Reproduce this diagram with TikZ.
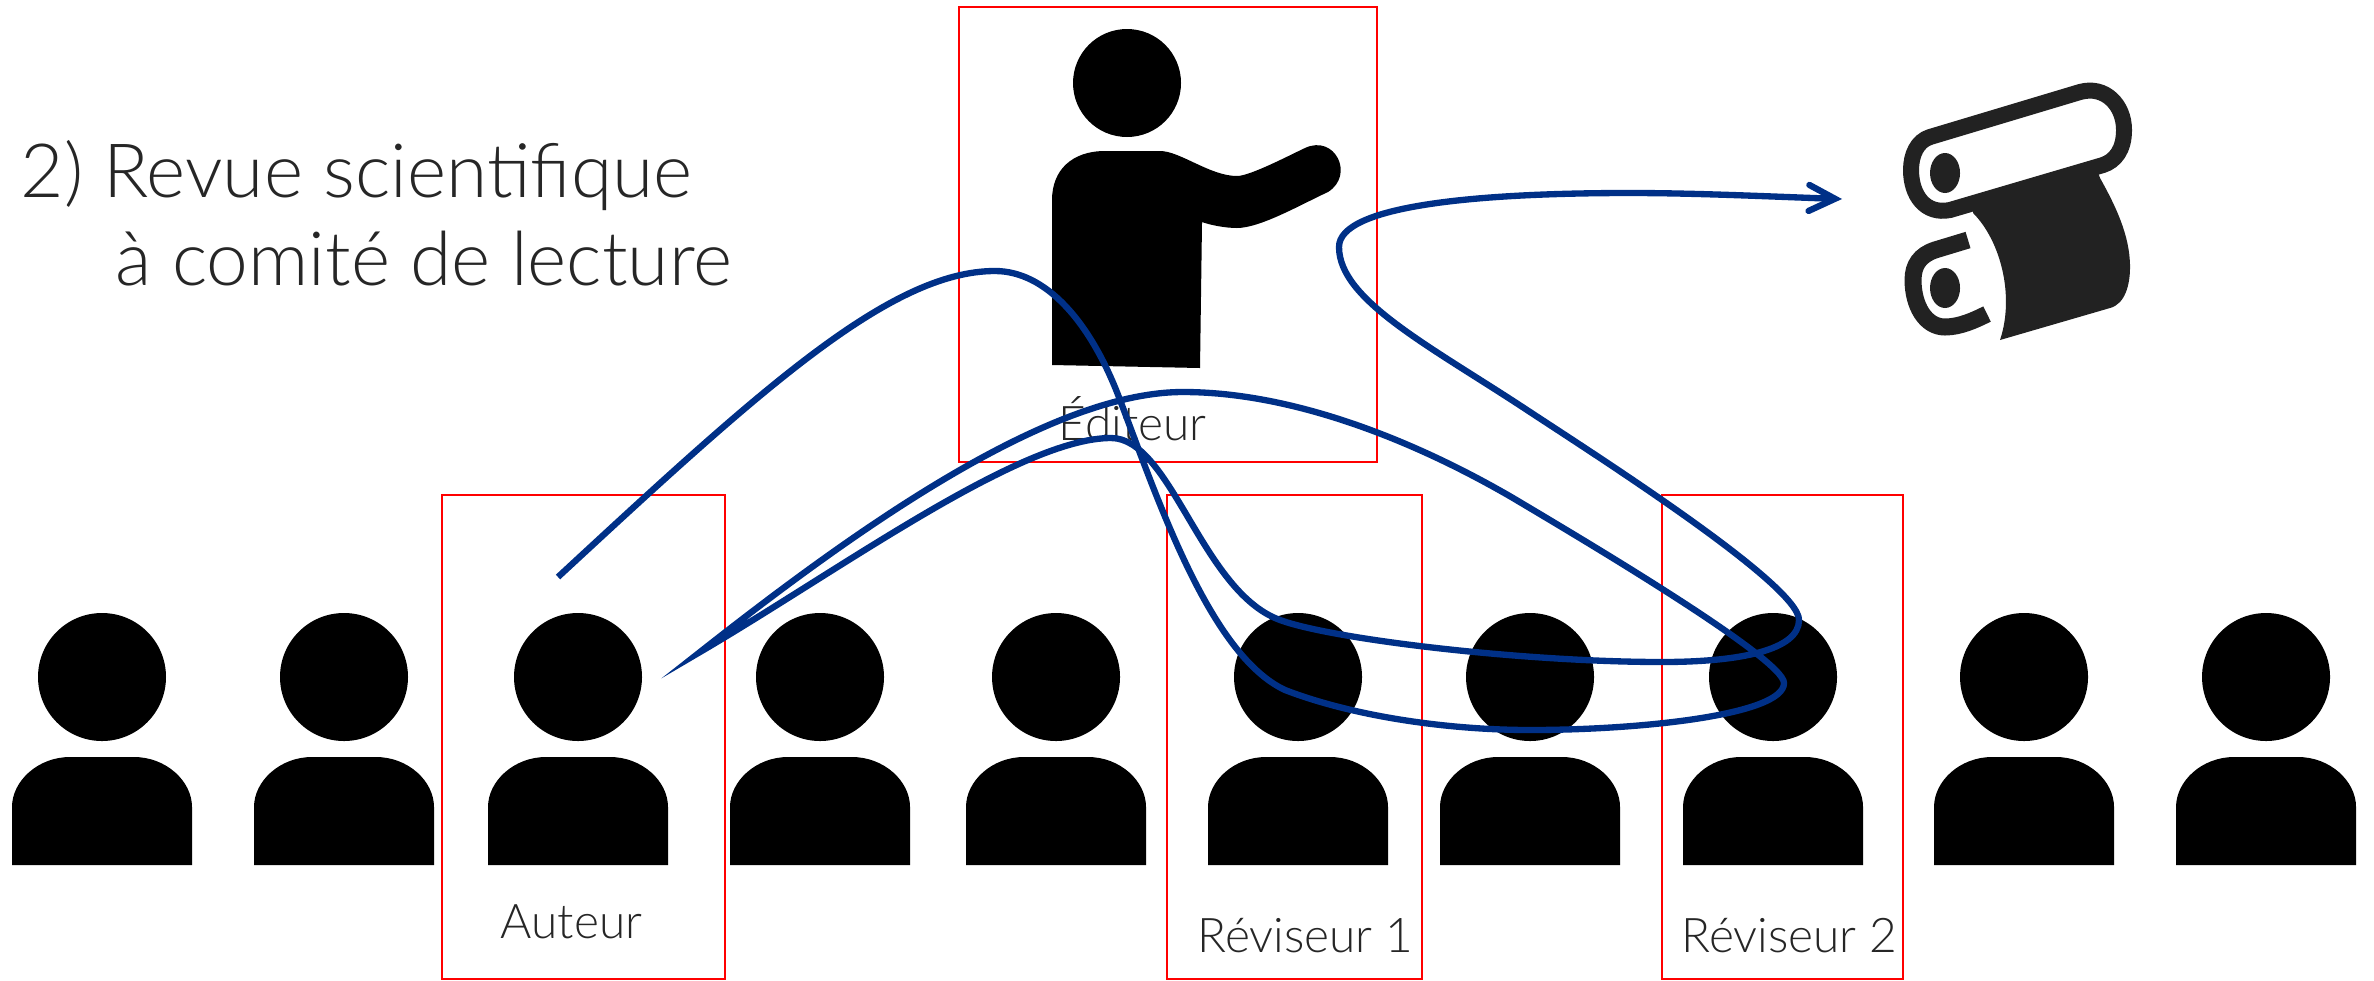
\documentclass[tikz,border=0pt]{standalone}
\usepackage{fontspec}
\setmainfont{Lato}[UprightFont=* Light]
\usetikzlibrary{arrows.meta}
\definecolor{curveblue}{RGB}{0,48,135}
\definecolor{textgray}{RGB}{38,38,38}
\definecolor{rollgray}{RGB}{34,34,34}
\tikzset{
        redbox/.style={draw=red,line width=0.6pt},
        pathcurve/.style={draw=curveblue,line width=1.8pt,miter limit=40},
        titletext/.style={anchor=base west,inner sep=0pt,text=textgray,font=\fontsize{21.3}{25}\selectfont},
        roletext/.style={anchor=base west,inner sep=0pt,text=textgray,font=\fontsize{13.6}{16}\selectfont},
}

\begin{document}
\begin{tikzpicture}
        \useasboundingbox (0,0) rectangle (23.74,9.80);

        \foreach \px in {1.02,3.44,5.78,8.20,10.56,12.98,15.30,17.73,20.24,22.66}{
                \fill (\px,3.03) circle (0.64);
                \fill (\px-0.90,1.15) -- (\px-0.90,1.73) .. controls (\px-0.90,1.99) and (\px-0.64,2.23) .. (\px-0.32,2.23)
                        -- (\px+0.32,2.23) .. controls (\px+0.64,2.23) and (\px+0.90,1.99) .. (\px+0.90,1.73) -- (\px+0.90,1.15) -- cycle;
        }

        \fill (11.27,8.97) circle (0.54);
        \fill (10.52,6.15) -- (10.52,7.80) .. controls (10.52,8.10) and (10.72,8.29) .. (11.05,8.29)
                -- (11.60,8.29) .. controls (11.80,8.29) and (12.10,8.04) .. (12.37,8.04)
                .. controls (12.50,8.04) and (12.90,8.25) .. (13.05,8.32)
                .. controls (13.35,8.46) and (13.55,8.05) .. (13.28,7.88)
                .. controls (13.00,7.75) and (12.60,7.52) .. (12.37,7.52)
                .. controls (12.25,7.52) and (12.10,7.55) .. (12.02,7.58) -- (12.00,6.12) -- cycle;

        \fill[rollgray] (19.73,7.75) -- (19.73,7.67) .. controls (20.00,7.40) and (20.15,6.85) .. (20.00,6.40) -- (21.10,6.72)
                .. controls (21.25,6.76) and (21.30,6.95) .. (21.30,7.13) .. controls (21.30,7.45) and (21.15,7.75) .. (21.00,8.02) -- (20.97,8.10) -- cycle;
        \draw[color=rollgray,fill=white,line width=0.16cm] (19.30,8.43) -- (20.80,8.88) .. controls (21.05,8.95) and (21.24,8.75) .. (21.24,8.50)
                .. controls (21.24,8.30) and (21.15,8.19) .. (21.03,8.15) -- (19.50,7.70)
                .. controls (19.25,7.65) and (19.11,7.85) .. (19.11,8.10) .. controls (19.11,8.25) and (19.17,8.39) .. (19.30,8.43) -- cycle;
        \fill[rollgray] (19.45,8.07) ellipse (0.15 and 0.20);
        \fill[rollgray] (19.45,6.92) ellipse (0.15 and 0.20);
        \draw[color=rollgray,line width=0.17cm] (19.68,7.40) -- (19.35,7.30) .. controls (19.20,7.25) and (19.13,7.15) .. (19.13,7.00)
                .. controls (19.13,6.75) and (19.25,6.53) .. (19.45,6.53) .. controls (19.60,6.53) and (19.75,6.60) .. (19.87,6.66);

        \draw[redbox] (9.59,5.18) rectangle (13.77,9.73);
        \draw[redbox] (4.42,0.01) rectangle (7.25,4.85);
        \draw[redbox] (11.67,0.01) rectangle (14.22,4.85);
        \draw[redbox] (16.62,0.01) rectangle (19.03,4.85);

        \node[titletext] (title1) at (0.20,7.83) {2) Revue scientifique};
        \node[titletext] (title2) at (1.15,6.95) {à comité de lecture};
        \node[roletext] (editeur) at (10.58,5.40) {Éditeur};
        \node[roletext] (auteur) at (5.00,0.42) {Auteur};
        \node[roletext] (reviseur1) at (11.97,0.28) {Réviseur 1};
        \node[roletext] (reviseur2) at (16.81,0.28) {Réviseur 2};

        \coordinate (start) at (5.58,4.03);
        \coordinate (tip) at (7.00,3.28);
        \coordinate (end) at (18.42,7.81);

        \draw[pathcurve,-{Straight Barb[length=0.26cm,width=0.26cm,line cap=round]}] (start)
                .. controls (7.60,5.90) and (8.90,7.09) .. (9.95,7.09)
                .. controls (10.45,7.09) and (10.90,6.60) .. (11.20,5.80)
                .. controls (11.58,4.80) and (12.10,3.25) .. (12.85,2.90)
                .. controls (13.55,2.63) and (14.50,2.50) .. (15.30,2.50)
                .. controls (16.40,2.50) and (17.84,2.65) .. (17.84,2.97)
                .. controls (17.84,3.22) and (15.70,4.48) .. (15.13,4.82)
                .. controls (14.10,5.42) and (12.90,5.88) .. (11.83,5.88)
                .. controls (10.50,5.88) and (8.60,4.54) .. (tip)
                .. controls (8.40,4.10) and (10.20,5.42) .. (11.11,5.42)
                .. controls (11.70,5.42) and (12.00,3.95) .. (12.75,3.62)
                .. controls (13.20,3.42) and (15.20,3.18) .. (16.62,3.18)
                .. controls (17.40,3.18) and (17.99,3.30) .. (17.99,3.60)
                .. controls (17.99,3.95) and (16.00,5.22) .. (15.27,5.70)
                .. controls (14.30,6.34) and (13.39,6.80) .. (13.39,7.33)
                .. controls (13.39,7.75) and (14.80,7.87) .. (16.30,7.87)
                .. controls (17.00,7.87) and (17.80,7.83) .. (end);
\end{tikzpicture}
\end{document}
